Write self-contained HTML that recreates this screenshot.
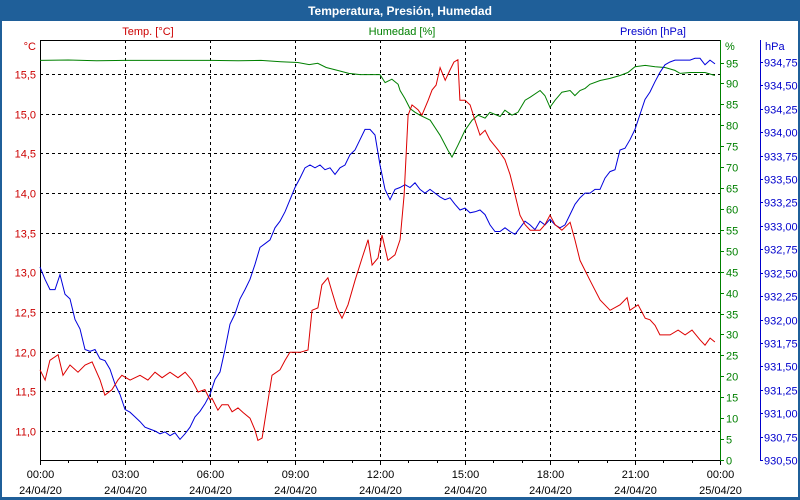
<!DOCTYPE html>
<html><head><meta charset="utf-8"><style>
html,body{margin:0;padding:0;background:#fff}
svg{display:block;font-family:"Liberation Sans",sans-serif}
</style></head><body>
<svg id="c" width="800" height="500" xmlns="http://www.w3.org/2000/svg">
<rect x="0" y="0" width="800" height="500" fill="#1f5f99"/>
<rect x="2" y="21" width="796" height="476" fill="#fff"/>
<text x="400" y="15" text-anchor="middle" fill="#fff" font-weight="bold" font-size="12">Temperatura, Presión, Humedad</text>
<text x="148" y="35" text-anchor="middle" fill="#cc0000" font-size="11">Temp. [°C]</text>
<text x="402" y="35" text-anchor="middle" fill="#008000" font-size="11">Humedad [%]</text>
<text x="686" y="35" text-anchor="end" fill="#0000cc" font-size="11">Presión [hPa]</text>
<text x="36" y="50" text-anchor="end" fill="#cc0000" font-size="11">°C</text>
<text x="725" y="50" fill="#008000" font-size="11">%</text>
<text x="765" y="50" fill="#0000cc" font-size="11">hPa</text>
<g id="grid"></g><g id="axes"></g><g id="series"></g>
</svg>
<script>
const timeTickLabels=["00:00","03:00","06:00","09:00","12:00","15:00","18:00","21:00","00:00"];
const dateTickLabels=["24/04/20","24/04/20","24/04/20","24/04/20","24/04/20","24/04/20","24/04/20","24/04/20","25/04/20"];
const tempTicks=[11.0,11.5,12.0,12.5,13.0,13.5,14.0,14.5,15.0,15.5];
const humTicks=[0,5,10,15,20,25,30,35,40,45,50,55,60,65,70,75,80,85,90,95];
const presTicks=[930.5,930.75,931,931.25,931.5,931.75,932,932.25,932.5,932.75,933,933.25,933.5,933.75,934,934.25,934.5,934.75];
const tempHours=[0,.18,.35,.64,.81,1.06,1.34,1.59,1.84,2.12,2.29,2.54,2.75,2.89,3.18,3.53,3.81,4.06,4.31,4.59,4.87,5.12,5.36,5.58,5.82,6.0,6.07,6.28,6.42,6.64,6.78,6.99,7.17,7.41,7.59,7.69,7.84,8.05,8.19,8.47,8.65,8.82,9.18,9.46,9.6,9.81,9.95,10.16,10.31,10.48,10.66,10.87,11.12,11.37,11.58,11.72,11.93,12.07,12.28,12.53,12.71,12.85,12.99,13.13,13.34,13.48,13.7,13.84,13.98,14.12,14.3,14.47,14.61,14.75,14.82,15.0,15.18,15.35,15.53,15.71,15.88,16.17,16.41,16.59,16.77,16.94,17.12,17.3,17.65,17.82,18.0,18.18,18.42,18.71,18.88,19.06,19.41,19.77,20.12,20.47,20.72,20.82,21.11,21.36,21.53,21.71,21.88,22.24,22.52,22.77,23.01,23.29,23.47,23.65,23.82];
const tempValues=[11.77,11.64,11.89,11.96,11.70,11.83,11.74,11.83,11.87,11.64,11.45,11.52,11.64,11.70,11.64,11.70,11.64,11.74,11.67,11.74,11.67,11.74,11.64,11.49,11.52,11.39,11.41,11.26,11.33,11.33,11.24,11.29,11.23,11.16,11.01,10.88,10.91,11.39,11.70,11.77,11.89,11.99,11.99,12.02,12.52,12.55,12.84,12.93,12.75,12.55,12.42,12.59,12.90,13.18,13.41,13.09,13.18,13.47,13.15,13.22,13.41,13.97,14.98,15.11,15.05,14.98,15.17,15.30,15.36,15.58,15.42,15.55,15.65,15.68,15.17,15.17,15.11,14.92,14.73,14.79,14.67,14.54,14.42,14.23,13.97,13.72,13.60,13.53,13.53,13.60,13.72,13.60,13.53,13.63,13.41,13.15,12.90,12.65,12.52,12.59,12.68,12.52,12.59,12.42,12.40,12.33,12.21,12.21,12.27,12.21,12.27,12.15,12.08,12.17,12.12];
const humHours=[0,1,2,3,4,5,6,7,7.8,8.5,9.1,9.5,9.8,10.1,10.5,10.9,11.3,12.0,12.18,12.42,12.64,12.71,12.88,13.06,13.24,13.41,13.77,14.12,14.4,14.54,14.75,15.0,15.25,15.46,15.71,15.88,16.24,16.41,16.66,16.87,17.12,17.3,17.65,17.82,18.0,18.18,18.42,18.71,18.88,19.06,19.24,19.41,19.77,20.12,20.47,20.75,21.0,21.36,21.71,22.06,22.41,22.59,22.94,23.47,23.82];
const humValues=[95.5,95.6,95.4,95.5,95.5,95.5,95.5,95.4,95.5,95.2,95.0,94.5,94.8,93.8,93.1,92.4,92.1,92.1,90.2,91.0,89.8,88.3,86.4,84.0,83.1,82.4,81.2,77.6,74.0,72.4,75.2,78.8,81.2,82.4,81.7,83.1,82.1,83.6,82.4,83.1,86.0,86.7,88.3,87.1,84.3,86.0,87.9,88.3,87.1,88.3,88.8,89.8,90.7,91.2,91.9,92.6,94.0,94.3,94.0,93.8,93.1,92.4,92.6,92.6,91.9];
const presIntervalHours=0.17647;
const presValues=[932.56,932.43,932.32,932.32,932.48,932.27,932.22,932.00,931.90,931.68,931.66,931.68,931.58,931.56,931.47,931.31,931.20,931.04,931.01,930.96,930.91,930.85,930.83,930.81,930.78,930.80,930.76,930.79,930.72,930.78,930.85,930.96,931.02,931.10,931.20,931.36,931.44,931.68,931.95,932.06,932.22,932.32,932.43,932.59,932.77,932.81,932.85,932.98,933.05,933.15,933.28,933.41,933.51,933.62,933.65,933.62,933.65,933.60,933.62,933.55,933.62,933.65,933.76,933.81,933.92,934.03,934.03,933.97,933.65,933.39,933.28,933.39,933.41,933.44,933.41,933.46,933.39,933.35,933.39,933.35,933.31,933.28,933.30,933.23,933.17,933.19,933.14,933.15,933.17,933.12,933.01,932.94,932.94,932.98,932.94,932.91,932.98,933.05,933.01,932.96,933.05,933.01,933.07,933.01,932.98,933.01,933.12,933.23,933.30,933.35,933.35,933.39,933.39,933.51,933.58,933.60,933.81,933.83,933.92,934.03,934.19,934.35,934.43,934.54,934.64,934.72,934.75,934.77,934.77,934.77,934.77,934.79,934.79,934.72,934.77,934.73];

const X0=40,X1=720,Y0=40,YB=460;
const xH=h=>X0+h*(X1-X0)/24;
const yT=t=>74-(t-15.5)*79.3;
const yHm=v=>YB-v*(YB-62.5)/95;
const yP=p=>YB-(p-930.5)*(YB-62)/4.25;
const NS="http://www.w3.org/2000/svg";
function mk(parent,tag,attrs){const e=document.createElementNS(NS,tag);for(const k in attrs)e.setAttribute(k,attrs[k]);parent.appendChild(e);return e;}
const grid=document.getElementById('grid'),axes=document.getElementById('axes'),series=document.getElementById('series');

tempTicks.forEach(t=>{const y=Math.round(yT(t))+.5;
 const l=mk(grid,'line',{x1:X0,x2:X1,y1:y,y2:y,stroke:'#000','stroke-dasharray':'3,3'});
 
 
 const tx=mk(axes,'text',{x:36,y:y+4,'text-anchor':'end',fill:'#cc0000','font-size':11});
 tx.textContent=t.toFixed(1).replace('.',',');
 
 
});
timeTickLabels.forEach((lab,i)=>{const x=Math.round(xH(i*3))+.5;
 if(i>0&&i<8){const l=mk(grid,'line',{x1:x,x2:x,y1:Y0,y2:YB,stroke:'#000','stroke-dasharray':'3,3'});
  
  }
 const t1=mk(axes,'text',{x:x,y:478,'text-anchor':'middle',fill:'#000','font-size':11});
 t1.textContent=lab;
 
 
 const t2=mk(axes,'text',{x:x,y:494,'text-anchor':'middle',fill:'#000','font-size':11});
 t2.textContent=dateTickLabels[i];
 
 
});
for(let h=0;h<=24;h++){const x=Math.round(xH(h))+.5;
 const l=mk(axes,'line',{x1:x,x2:x,y1:YB,y2:YB+(h%3==0?5:3),stroke:'#000'});
 
 }
let a=mk(axes,'path',{d:`M${X0+.5} ${YB+.5}V${Y0+.5}H${X1}`,stroke:'#000',fill:'none'});


a=mk(axes,'line',{x1:X0,x2:X1,y1:YB+.5,y2:YB+.5,stroke:'#000'});


a=mk(axes,'line',{x1:720.5,x2:720.5,y1:Y0,y2:YB+1,stroke:'#008000'});


a=mk(axes,'line',{x1:760.5,x2:760.5,y1:Y0,y2:YB+1,stroke:'#0000cc'});


humTicks.forEach(v=>{const y=Math.round(yHm(v))+.5;
 const l=mk(axes,'line',{x1:720,x2:724,y1:y,y2:y,stroke:'#008000'});
 
 
 const t=mk(axes,'text',{x:726,y:y+4,fill:'#008000','font-size':11});
 t.textContent=v;
 
 
});
presTicks.forEach(v=>{const y=Math.round(yP(v))+.5;
 const l=mk(axes,'line',{x1:760,x2:763,y1:y,y2:y,stroke:'#0000cc'});
 
 
 const t=mk(axes,'text',{x:764,y:y+4,fill:'#0000cc','font-size':11});
 t.textContent=v.toFixed(2).replace('.',',');
 
 
});
function line(xs,ys,col,name){
 const d=xs.map((x,i)=>(i?'L':'M')+x.toFixed(1)+' '+ys[i].toFixed(1)).join('');
 const p=mk(series,'path',{d:d,stroke:col,fill:'none','stroke-width':1});
 
 
}
line(humHours.map(xH),humValues.map(yHm),'#008000','humidity-line');
line(presValues.map((v,i)=>xH(i*presIntervalHours)),presValues.map(yP),'#0000dd','pressure-line');
line(tempHours.map(xH),tempValues.map(yT),'#dd0000','temperature-line');
</script>
</body></html>
